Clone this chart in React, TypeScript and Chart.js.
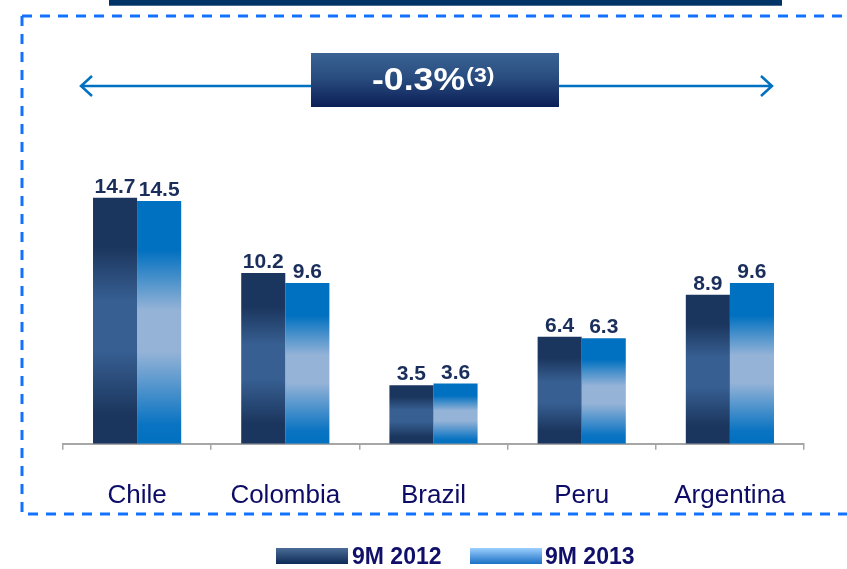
import React, { useEffect, useRef } from "react";
import { Chart, registerables } from "chart.js";

Chart.register(...registerables);

const categories = ["Chile", "Colombia", "Brazil", "Peru", "Argentina"];
const series2012 = [14.7, 10.2, 3.5, 6.4, 8.9];
const series2013 = [14.5, 9.6, 3.6, 6.3, 9.6];
const seriesNames = ["9M 2012", "9M 2013"];
const headline = "-0.3%";
const headlineNote = "(3)";

const FONT = "'Liberation Sans', Arial, sans-serif";

function barGradient(ctx: any, stops: [number, string][], solid: string) {
  const chart = ctx.chart;
  if (ctx.type !== "data" || !chart.chartArea || !chart.scales.y) return solid;
  const y = chart.scales.y;
  const top = y.getPixelForValue(ctx.raw);
  const bottom = y.getPixelForValue(0);
  if (!isFinite(top) || !isFinite(bottom) || top === bottom) return solid;
  const g = chart.ctx.createLinearGradient(0, top, 0, bottom);
  stops.forEach(([o, c]) => g.addColorStop(o, c));
  return g;
}

const stops2012: [number, string][] = [
  [0, "#1b365e"],
  [0.2, "#1b365e"],
  [0.42, "#375f92"],
  [0.62, "#375f92"],
  [0.88, "#1b365e"],
  [1, "#1b365e"],
];
const stops2013: [number, string][] = [
  [0, "#0070c0"],
  [0.2, "#0070c0"],
  [0.45, "#95b3d7"],
  [0.62, "#95b3d7"],
  [0.92, "#0a74c2"],
  [1, "#0070c0"],
];

const decorPlugin = {
  id: "decor",
  beforeDraw(chart: any) {
    const c = chart.ctx as CanvasRenderingContext2D;
    c.save();
    c.fillStyle = "#ffffff";
    c.fillRect(0, 0, chart.width, chart.height);
    // top bar
    c.fillStyle = "#003366";
    c.fillRect(109, 0, 673, 6);
    c.fillStyle = "#4a6a8f";
    c.fillRect(109, 5, 673, 1);
    // dashed frame
    c.strokeStyle = "#1272ff";
    c.lineWidth = 3;
    c.setLineDash([10, 8]);
    c.beginPath();
    c.moveTo(22, 16);
    c.lineTo(847, 16);
    c.moveTo(22, 16);
    c.lineTo(22, 514);
    c.lineTo(847, 514);
    c.stroke();
    c.setLineDash([]);
    // arrow
    c.strokeStyle = "#0070c0";
    c.lineWidth = 2.5;
    c.beginPath();
    c.moveTo(81, 86);
    c.lineTo(772, 86);
    c.moveTo(92, 76);
    c.lineTo(81, 86);
    c.lineTo(92, 96);
    c.moveTo(761, 76);
    c.lineTo(772, 86);
    c.lineTo(761, 96);
    c.stroke();
    // headline box
    const g = c.createLinearGradient(0, 53, 0, 107);
    g.addColorStop(0, "#3a6394");
    g.addColorStop(0.45, "#2a4d80");
    g.addColorStop(1, "#0b1f57");
    c.fillStyle = g;
    c.fillRect(311, 53, 248, 54);
    c.fillStyle = "#ffffff";
    c.textBaseline = "alphabetic";
    c.textAlign = "left";
    c.save();
    c.translate(372, 90);
    c.scale(1.15, 1);
    c.font = `bold 31px ${FONT}`;
    c.fillText(headline, 0, 0);
    const w = c.measureText(headline).width;
    c.font = `bold 20px ${FONT}`;
    c.fillText(headlineNote, w + 1, -8);
    c.restore();
    // legend
    const sw = [
      { x: 276, top: "#4a6d98", bot: "#0e2a56", tx: 352 },
      { x: 470, top: "#9ccfff", bot: "#1a6fc4", tx: 545 },
    ];
    sw.forEach((s, i) => {
      const lg = c.createLinearGradient(0, 548, 0, 564);
      lg.addColorStop(0, s.top);
      lg.addColorStop(1, s.bot);
      c.fillStyle = lg;
      c.fillRect(s.x, 548, 72, 16);
      c.fillStyle = "#10106a";
      c.font = `bold 23px ${FONT}`;
      c.fillText(seriesNames[i], s.tx, 564);
    });
    c.restore();
  },
  afterDatasetsDraw(chart: any) {
    const c = chart.ctx as CanvasRenderingContext2D;
    c.save();
    c.fillStyle = "#1a2e5c";
    c.font = `bold 21px ${FONT}`;
    c.textAlign = "center";
    c.textBaseline = "alphabetic";
    chart.data.datasets.forEach((ds: any, di: number) => {
      const meta = chart.getDatasetMeta(di);
      meta.data.forEach((el: any, i: number) => {
        c.fillText(ds.data[i].toFixed(1), el.x, el.y - 5);
      });
    });
    c.restore();
  },
};

export default function App() {
  const ref = useRef<HTMLCanvasElement>(null);
  useEffect(() => {
    if (!ref.current) return;
    const chart = new Chart(ref.current, {
      type: "bar",
      data: {
        labels: categories,
        datasets: [
          {
            label: seriesNames[0],
            data: series2012,
            backgroundColor: (ctx: any) => barGradient(ctx, stops2012, "#1b365e"),
            borderWidth: 0,
          },
          {
            label: seriesNames[1],
            data: series2013,
            backgroundColor: (ctx: any) => barGradient(ctx, stops2013, "#0070c0"),
            borderWidth: 0,
          },
        ],
      },
      plugins: [decorPlugin],
      options: {
        animation: false,
        responsive: false,
        devicePixelRatio: 1,
        layout: { padding: { left: 63, right: 43, top: 176, bottom: 28 } },
        plugins: { legend: { display: false }, tooltip: { enabled: false } },
        datasets: { bar: { barPercentage: 1, categoryPercentage: 0.595 } },
        scales: {
          x: {
            grid: {
              display: true,
              drawOnChartArea: false,
              drawTicks: true,
              tickLength: 6,
              color: "#a6a6a6",
              lineWidth: 1.5,
              offset: true,
            },
            border: { display: true, color: "#a6a6a6", width: 2 },
            ticks: {
              color: "#0c0c66",
              font: { family: FONT, size: 26 },
              padding: 30,
              maxRotation: 0,
              autoSkip: false,
            },
          },
          y: { display: false, min: 0, max: 16 },
        },
      } as any,
    });
    return () => chart.destroy();
  }, []);
  return (
    <div style={{ position: "fixed", left: 0, top: 0, width: 847, height: 569, background: "#fff" }}>
      <canvas ref={ref} width={847} height={569} style={{ display: "block" }} />
    </div>
  );
}
